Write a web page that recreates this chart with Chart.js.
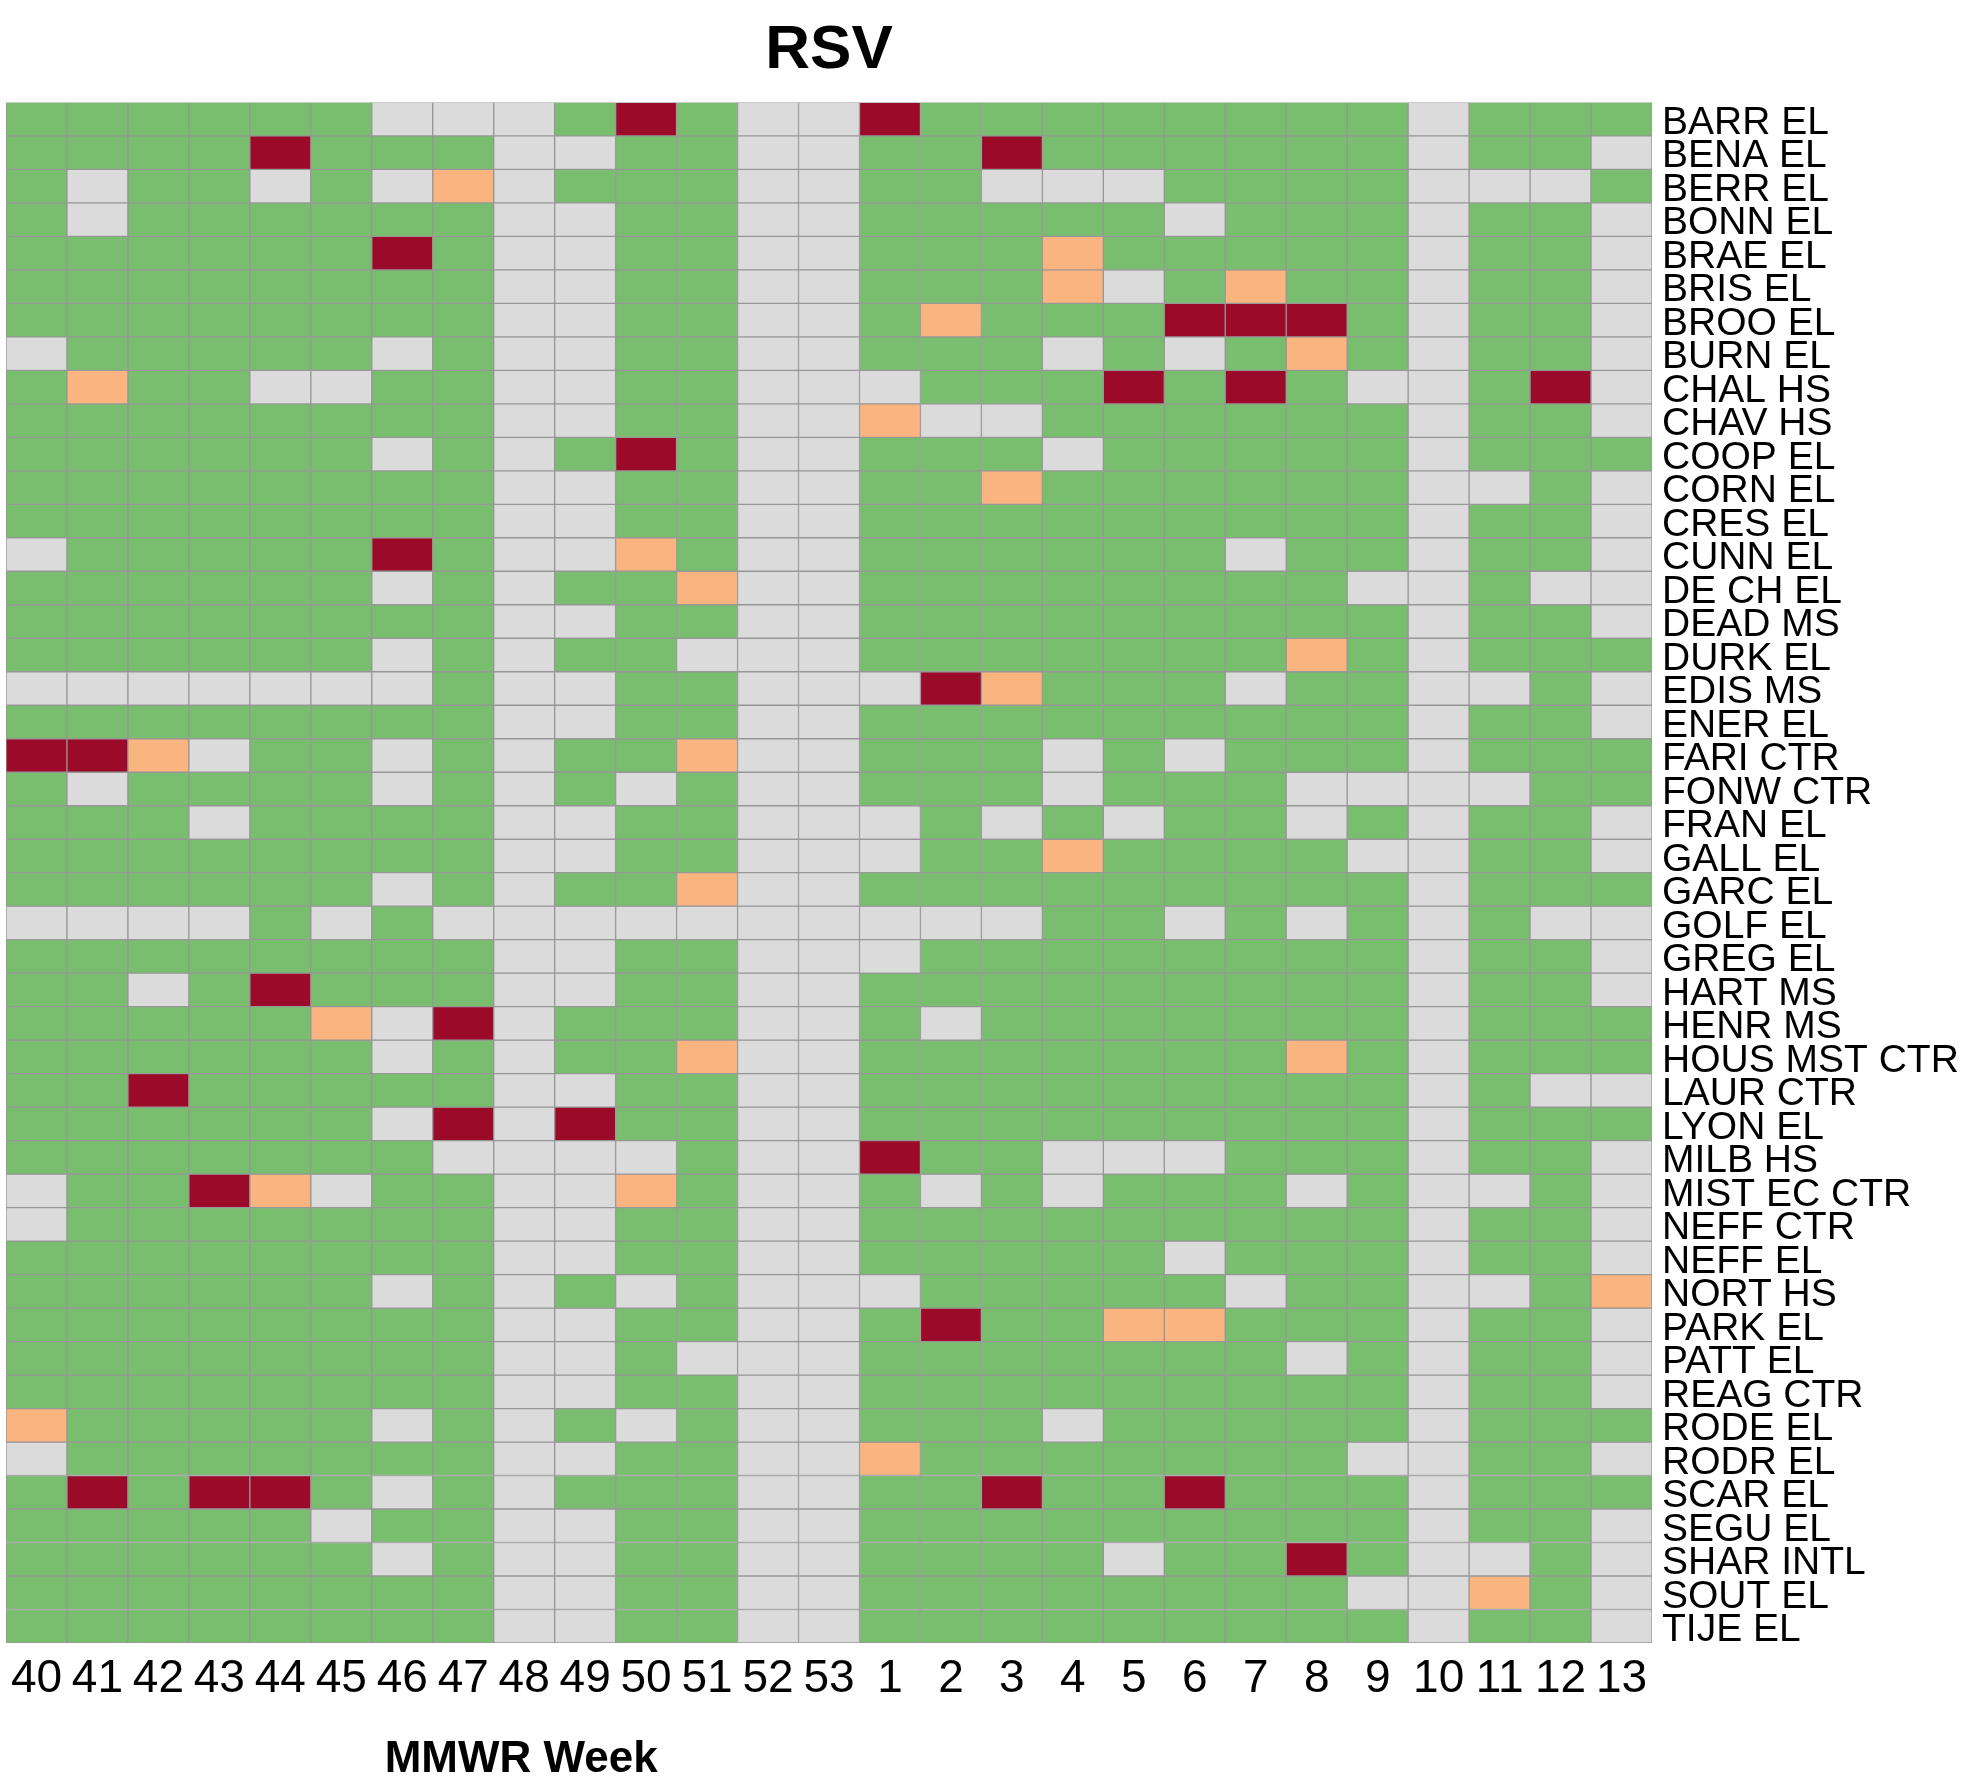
<!DOCTYPE html>
<html>
<head>
<meta charset="utf-8">
<title>RSV</title>
<script src="https://cdn.jsdelivr.net/npm/chart.js@4.4.1/dist/chart.umd.min.js"></script>
<style>
  html, body { margin: 0; padding: 0; background: #ffffff; }
  canvas { display: block; }
</style>
</head>
<body>
<canvas id="rsvChart" width="1965" height="1780"></canvas>
<script>
const CHART_TITLE = 'RSV';
const X_TITLE = 'MMWR Week';

const WEEKS = [
  '40', '41', '42', '43', '44', '45', '46', '47', '48', '49', '50', '51', '52', '53',
  '1', '2', '3', '4', '5', '6', '7', '8', '9', '10', '11', '12', '13',
];

const SCHOOLS = [
  'BARR EL', 'BENA EL', 'BERR EL', 'BONN EL', 'BRAE EL', 'BRIS EL', 'BROO EL',
  'BURN EL', 'CHAL HS', 'CHAV HS', 'COOP EL', 'CORN EL', 'CRES EL', 'CUNN EL',
  'DE CH EL', 'DEAD MS', 'DURK EL', 'EDIS MS', 'ENER EL', 'FARI CTR', 'FONW CTR',
  'FRAN EL', 'GALL EL', 'GARC EL', 'GOLF EL', 'GREG EL', 'HART MS', 'HENR MS',
  'HOUS MST CTR', 'LAUR CTR', 'LYON EL', 'MILB HS', 'MIST EC CTR', 'NEFF CTR',
  'NEFF EL', 'NORT HS', 'PARK EL', 'PATT EL', 'REAG CTR', 'RODE EL', 'RODR EL',
  'SCAR EL', 'SEGU EL', 'SHAR INTL', 'SOUT EL', 'TIJE EL',
];

// one letter per week: G = normal, N = no data, O = elevated, R = high
const STATUS = [
  'GGGGGGNNNGRGNN' + 'RGGGGGGGGNGGG', // BARR EL
  'GGGGRGGGNNGGNN' + 'GGRGGGGGGNGGN', // BENA EL
  'GNGGNGNONGGGNN' + 'GGNNNGGGGNNNG', // BERR EL
  'GNGGGGGGNNGGNN' + 'GGGGGNGGGNGGN', // BONN EL
  'GGGGGGRGNNGGNN' + 'GGGOGGGGGNGGN', // BRAE EL
  'GGGGGGGGNNGGNN' + 'GGGONGOGGNGGN', // BRIS EL
  'GGGGGGGGNNGGNN' + 'GOGGGRRRGNGGN', // BROO EL
  'NGGGGGNGNNGGNN' + 'GGGNGNGOGNGGN', // BURN EL
  'GOGGNNGGNNGGNN' + 'NGGGRGRGNNGRN', // CHAL HS
  'GGGGGGGGNNGGNN' + 'ONNGGGGGGNGGN', // CHAV HS
  'GGGGGGNGNGRGNN' + 'GGGNGGGGGNGGG', // COOP EL
  'GGGGGGGGNNGGNN' + 'GGOGGGGGGNNGN', // CORN EL
  'GGGGGGGGNNGGNN' + 'GGGGGGGGGNGGN', // CRES EL
  'NGGGGGRGNNOGNN' + 'GGGGGGNGGNGGN', // CUNN EL
  'GGGGGGNGNGGONN' + 'GGGGGGGGNNGNN', // DE CH EL
  'GGGGGGGGNNGGNN' + 'GGGGGGGGGNGGN', // DEAD MS
  'GGGGGGNGNGGNNN' + 'GGGGGGGOGNGGG', // DURK EL
  'NNNNNNNGNNGGNN' + 'NROGGGNGGNNGN', // EDIS MS
  'GGGGGGGGNNGGNN' + 'GGGGGGGGGNGGN', // ENER EL
  'RRONGGNGNGGONN' + 'GGGNGNGGGNGGG', // FARI CTR
  'GNGGGGNGNGNGNN' + 'GGGNGGGNNNNGG', // FONW CTR
  'GGGNGGGGNNGGNN' + 'NGNGNGGNGNGGN', // FRAN EL
  'GGGGGGGGNNGGNN' + 'NGGOGGGGNNGGN', // GALL EL
  'GGGGGGNGNGGONN' + 'GGGGGGGGGNGGG', // GARC EL
  'NNNNGNGNNNNNNN' + 'NNNGGNGNGNGNN', // GOLF EL
  'GGGGGGGGNNGGNN' + 'NGGGGGGGGNGGN', // GREG EL
  'GGNGRGGGNNGGNN' + 'GGGGGGGGGNGGN', // HART MS
  'GGGGGONRNGGGNN' + 'GNGGGGGGGNGGG', // HENR MS
  'GGGGGGNGNGGONN' + 'GGGGGGGOGNGGG', // HOUS MST CTR
  'GGRGGGGGNNGGNN' + 'GGGGGGGGGNGNN', // LAUR CTR
  'GGGGGGNRNRGGNN' + 'GGGGGGGGGNGGG', // LYON EL
  'GGGGGGGNNNNGNN' + 'RGGNNNGGGNGGN', // MILB HS
  'NGGRONGGNNOGNN' + 'GNGNGGGNGNNGN', // MIST EC CTR
  'NGGGGGGGNNGGNN' + 'GGGGGGGGGNGGN', // NEFF CTR
  'GGGGGGGGNNGGNN' + 'GGGGGNGGGNGGN', // NEFF EL
  'GGGGGGNGNGNGNN' + 'NGGGGGNGGNNGO', // NORT HS
  'GGGGGGGGNNGGNN' + 'GRGGOOGGGNGGN', // PARK EL
  'GGGGGGGGNNGNNN' + 'GGGGGGGNGNGGN', // PATT EL
  'GGGGGGGGNNGGNN' + 'GGGGGGGGGNGGN', // REAG CTR
  'OGGGGGNGNGNGNN' + 'GGGNGGGGGNGGG', // RODE EL
  'NGGGGGGGNNGGNN' + 'OGGGGGGGNNGGN', // RODR EL
  'GRGRRGNGNGGGNN' + 'GGRGGRGGGNGGG', // SCAR EL
  'GGGGGNGGNNGGNN' + 'GGGGGGGGGNGGN', // SEGU EL
  'GGGGGGNGNNGGNN' + 'GGGGNGGRGNNGN', // SHAR INTL
  'GGGGGGGGNNGGNN' + 'GGGGGGGGNNOGN', // SOUT EL
  'GGGGGGGGNNGGNN' + 'GGGGGGGGGNGGN', // TIJE EL
];

const STATUS_COLORS = {
  G: '#79BE6E',
  N: '#DBDBDB',
  O: '#F9B47F',
  R: '#9B0A29',
};
const CELL_BORDER_COLOR = '#979797';
const TEXT_COLOR = '#000000';
const FONT_FAMILY = "'Liberation Sans', Arial, Helvetica, sans-serif";

const N_ROWS = SCHOOLS.length;

Chart.defaults.font.family = FONT_FAMILY;
Chart.defaults.color = TEXT_COLOR;

// each school is one row of floating bars, top row first
const CHART_DATASETS = SCHOOLS.map((school, row) => ({
  label: school,
  data: WEEKS.map(() => [N_ROWS - row - 1, N_ROWS - row]),
  backgroundColor: STATUS[row].split('').map((code) => STATUS_COLORS[code]),
  borderColor: CELL_BORDER_COLOR,
  borderWidth: 1,
  borderSkipped: false,
  barPercentage: 1,
  categoryPercentage: 1,
  grouped: false,
}));

const xTitlePlugin = {
  id: 'xTitle',
  afterDraw(chart) {
    const { ctx, chartArea } = chart;
    const x = chartArea.left + (chartArea.right - chartArea.left) * 0.313;
    ctx.save();
    ctx.font = `bold 44px ${FONT_FAMILY}`;
    ctx.fillStyle = TEXT_COLOR;
    ctx.textAlign = 'center';
    ctx.textBaseline = 'alphabetic';
    ctx.fillText(X_TITLE, x, chart.height - 8);
    ctx.restore();
  },
};

const SCALES = {
  x: {
    type: 'category',
    labels: WEEKS,
    grid: { display: false },
    border: { display: false },
    ticks: {
      color: TEXT_COLOR,
      font: { size: 46 },
      padding: 1,
      maxRotation: 0,
      autoSkip: false,
    },
    afterFit: (axis) => {
      axis.height = 137;
    },
  },
  y: {
    type: 'linear',
    position: 'right',
    min: 0,
    max: N_ROWS,
    grid: { display: false },
    border: { display: false },
    afterBuildTicks: (axis) => {
      axis.ticks = SCHOOLS.map((_, row) => ({ value: N_ROWS - row - 0.5 }));
    },
    ticks: {
      color: TEXT_COLOR,
      font: { size: 39 },
      padding: 2,
      labelOffset: 4,
      autoSkip: false,
      callback: (value) => SCHOOLS[Math.round(N_ROWS - 0.5 - value)],
    },
    afterFit: (axis) => {
      axis.width = 313;
    },
  },
};

new Chart(document.getElementById('rsvChart'), {
  type: 'bar',
  data: { labels: WEEKS, datasets: CHART_DATASETS },
  options: {
    responsive: false,
    animation: false,
    scales: SCALES,
    layout: { padding: { left: 6, right: 0, top: 0, bottom: 0 } },
    plugins: {
      legend: { display: false },
      tooltip: { enabled: false },
      title: {
        display: true,
        text: CHART_TITLE,
        color: TEXT_COLOR,
        fullSize: false,
        font: { size: 62, weight: 'bold' },
        padding: { top: 14, bottom: 14 },
      },
    },
  },
  plugins: [xTitlePlugin],
});
</script>
</body>
</html>
